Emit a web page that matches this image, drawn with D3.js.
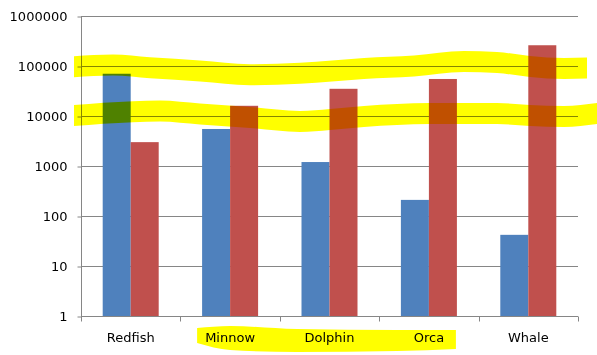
<!DOCTYPE html>
<html><head><meta charset="utf-8">
<script src="https://cdn.jsdelivr.net/npm/d3@7"></script>
<style>
html,body{margin:0;padding:0;background:#fff;}
svg{display:block;}
.hl{mix-blend-mode:multiply;}
text{font-family:"DejaVu Sans",sans-serif;font-size:13px;fill:#000;}
</style></head><body>
<script>
const categories = ["Redfish","Minnow","Dolphin","Orca","Whale"];
const seriesNames = ["Series1","Series2"];
const series1 = [70000, 5500, 1200, 210, 42];
const series2 = [3000, 16000, 35000, 55000, 260000];
const yTicks = [1,10,100,1000,10000,100000,1000000];
const highlightValues = [100000, 10000];
const highlightLabels = ["Minnow","Dolphin","Orca"];

const W=597,H=355;
const L=81,R=578,T=16,B=316;
const svg=d3.select("body").append("svg").attr("width",W).attr("height",H);

const x=d3.scaleBand().domain(categories).range([L,R]).padding(0);
const xi=d3.scaleBand().domain(seriesNames).range([0,x.bandwidth()]).paddingInner(0).paddingOuter(0.775);
const y=d3.scaleLog().domain([1,1e6]).range([B,T]);
const colors={Series1:"#4F81BD",Series2:"#C0504D"};
const grid="#868686";

// gridlines
svg.append("g").selectAll("line").data(yTicks.slice(1)).join("line")
  .attr("x1",L).attr("x2",R).attr("y1",d=>Math.round(y(d))+0.5).attr("y2",d=>Math.round(y(d))+0.5)
  .attr("stroke",grid).attr("stroke-width",1);

// y axis
const yAxis=d3.axisLeft(y).tickValues(yTicks).tickFormat(d3.format("d")).tickSize(4).tickPadding(10);
const gy=svg.append("g").attr("transform",`translate(${L+0.5},0.5)`).call(yAxis);
gy.select(".domain").attr("stroke",grid).attr("d",`M0,${T}V${B}`);
gy.selectAll(".tick line").attr("stroke",grid);
gy.selectAll("text").attr("fill","#000").style("font-size","13px").style("font-family","DejaVu Sans");

// x axis
const xAxis=d3.axisBottom(x).tickSize(0).tickPadding(16);
const gx=svg.append("g").attr("transform",`translate(0,${B+0.5})`).call(xAxis);
gx.select(".domain").attr("stroke",grid).attr("d",`M${L},0H${R}`);
gx.selectAll("text").attr("fill","#000").style("font-size","13px").style("font-family","DejaVu Sans");
const bounds=[...categories.map(c=>x(c)),R];
gx.append("g").selectAll("line").data(bounds).join("line")
  .attr("x1",d=>Math.round(d)+0.5).attr("x2",d=>Math.round(d)+0.5).attr("y1",0).attr("y2",5)
  .attr("stroke",grid);

// bars
const rows=categories.map((c,i)=>({cat:c,vals:[{s:"Series1",v:series1[i]},{s:"Series2",v:series2[i]}]}));
svg.append("g").selectAll("g").data(rows).join("g")
  .attr("transform",d=>`translate(${x(d.cat)},0)`)
  .selectAll("rect").data(d=>d.vals).join("rect")
  .attr("x",d=>xi(d.s)).attr("width",xi.bandwidth())
  .attr("y",d=>y(d.v)).attr("height",d=>B-y(d.v))
  .attr("fill",d=>colors[d.s]);

// highlighter strokes around gridlines (wobble offsets in px)
const wob=[
  {xs:[74,113,150,200,250,300,364,414,464,497,530,564,587],
   off:[0.7,-1,1.8,5,8.8,7.2,2.5,0,-4.5,-3.5,0.5,2.5,2], half:10.5},
  {xs:[74,133,160,200,250,300,330,364,430,497,530,564,597],
   off:[-0.5,-4.3,-5,-2,1.5,5.5,3.5,0.5,-2.5,-2.5,-0.5,0.5,-2.5], half:10.5}
];
const area=d3.area().x(d=>d[0]).y0(d=>d[1]).y1(d=>d[2]).curve(d3.curveMonotoneX);
const hg=svg.append("g");
highlightValues.forEach((v,k)=>{
  const w=wob[k], gy0=y(v);
  const pts=w.xs.map((xx,j)=>[xx,gy0+w.off[j]-w.half,gy0+w.off[j]+w.half]);
  hg.append("path").attr("class","hl").attr("d",area(pts)).attr("fill","#FFFF00");
});
// highlight under x labels
const lx0=x(highlightLabels[0])+x.bandwidth()/2-33, lx1=x(highlightLabels[highlightLabels.length-1])+x.bandwidth()/2+27;
const ly=B;
const lab=[[lx0,ly+12,ly+27],[lx0+33,ly+10,ly+34],[lx0+100,ly+13,ly+36],[lx0+200,ly+14,ly+35],[lx1,ly+14,ly+33]];
hg.append("path").attr("class","hl").attr("d",area(lab)).attr("fill","#FFFF00");
</script>
</body></html>
